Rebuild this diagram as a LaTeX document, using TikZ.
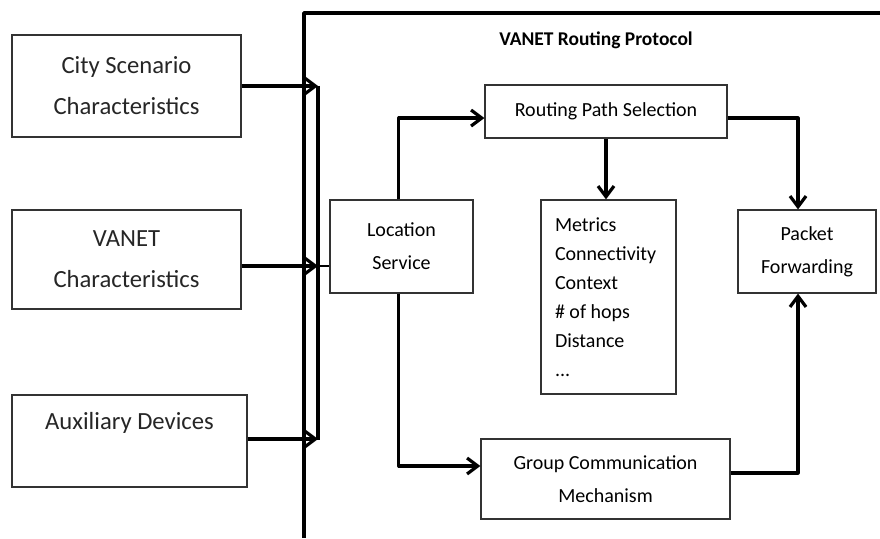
\documentclass[tikz,border=0pt]{standalone}
\usepackage{fontspec}
\setmainfont{Carlito}
\usetikzlibrary{arrows.meta, positioning, calc}
\tikzset{
  sidebox/.style={rectangle, draw=black!80, line width=0.9pt, align=center,
                  inner sep=0pt, text=black!85,
                  font=\fontsize{18.5}{30.75}\selectfont},
  block/.style={rectangle, draw=black!80, line width=0.9pt, align=center,
                inner sep=0pt, font=\fontsize{15}{24.75}\selectfont},
  listbox/.style={rectangle, draw=black!80, line width=0.9pt, align=flush left,
                  inner xsep=10.5pt, inner ysep=0pt, text width=80.25pt,
                  font=\fontsize{15}{21.75}\selectfont},
  arrow/.style={-{Straight Barb[length=8pt, width=12pt]}, line width=2.4pt,
                line join=round},
  wall/.style={line width=2.6pt, line join=round},
}

\begin{document}
\begin{tikzpicture}[x=0.75pt, y=-0.75pt]
    \useasboundingbox (0,0) rectangle (880,538);

    \draw[wall] (880,13) -| (304,538);
    \node[font=\bfseries\fontsize{14.6}{17}\selectfont] (title) at (596,40) {VANET Routing Protocol};

    \node[sidebox, minimum width=171.75pt, minimum height=76.5pt] (city) at (126.5,86) {City Scenario\\Characteristics};
    \node[sidebox, minimum width=171.75pt, minimum height=74.25pt] (vanet) at (126.5,259.5) {VANET\\Characteristics};
    \node[sidebox, minimum width=176.25pt, minimum height=69pt] (aux) at (129.5,441) {Auxiliary Devices\\\mbox{}};

    \coordinate (busA) at (318,86);
    \coordinate (busB) at (318,266);
    \coordinate (busC) at (318,439);
    \draw[wall] (busA) -- ([yshift=-1pt]busC);
    \draw[arrow] (city.east) -- (busA);
    \draw[arrow] (vanet.east |- busB) -- (busB);
    \draw[arrow] (aux.east |- busC) -- (busC);

    \node[block, minimum width=107.25pt, minimum height=69.75pt] (loc) at (401.5,246.5) {Location\\Service};
    \node[block, minimum width=181.5pt, minimum height=39.75pt] (route) at (606,111.5) {Routing Path Selection};
    \node[listbox, minimum height=145.5pt] (metric) at (608.5,297) {Metrics\\Connectivity\\Context\\\# of hops\\Distance\\...};
    \node[block, minimum width=103.5pt, minimum height=62.25pt] (packet) at (807,251.5) {Packet\\Forwarding};
    \node[block, minimum width=186.75pt, minimum height=60pt] (group) at (605.5,479) {Group Communication\\Mechanism};

    \draw[line width=0.9pt] (busB) -- (busB -| loc.west);
    \draw[arrow] ([xshift=-2pt]loc.north) |- ([yshift=-4.9pt]route.west);
    \draw[arrow] (route.south) -- (route.south |- metric.north);
    \draw[arrow] ([yshift=-4.9pt]route.east) -| ([xshift=-6.75pt]packet.north);
    \draw[arrow] ([xshift=-2pt]loc.south) |- ([yshift=9.75pt]group.west);
    \draw[arrow] ([yshift=4.5pt]group.east) -| ([xshift=-6.75pt]packet.south);
\end{tikzpicture}
\end{document}
